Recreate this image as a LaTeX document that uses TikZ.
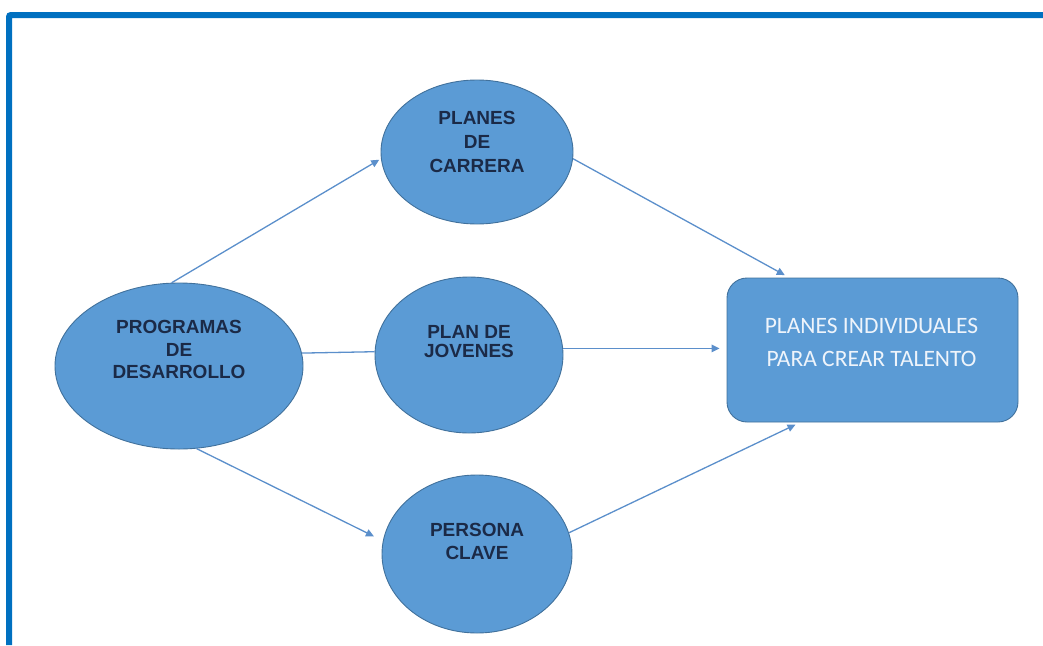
\documentclass[tikz,border=0pt]{standalone}
\usepackage{fontspec}
\setmainfont{Liberation Sans}
\newfontfamily\boxfont{Carlito}
\usetikzlibrary{shapes.geometric,arrows.meta}

\definecolor{frameblue}{HTML}{0070C0}
\definecolor{shapefill}{HTML}{5B9BD5}
\definecolor{shapeedge}{HTML}{41719C}
\definecolor{linkblue}{HTML}{5B8FCB}
\definecolor{inktext}{HTML}{1B2A47}
\definecolor{boxtext}{HTML}{EEF4FB}

\tikzset{
  bubble/.style={ellipse, fill=shapefill, draw=shapeedge, line width=0.9pt, inner sep=0pt},
  bubtext/.style={align=center, inner sep=0pt, text=inktext, font=\bfseries\fontsize{19}{#1}\selectfont},
  goalbox/.style={rectangle, rounded corners=20pt, fill=shapefill, draw=shapeedge, line width=0.9pt,
    minimum width=291pt, minimum height=144pt, inner sep=0pt},
  goaltext/.style={align=center, inner sep=0pt, text=boxtext, font=\boxfont\fontsize{23.5}{33}\selectfont},
  link/.style={draw=linkblue, line width=1.3pt},
  arrowlink/.style={link, -{Triangle[length=8pt,width=7.5pt]}}
}

\begin{document}
\begin{tikzpicture}[x=1pt, y=-1pt]
  \useasboundingbox (0,0) rectangle (1043,645);

  % page frame: open at right and bottom
  \draw[frameblue, line width=6pt, rounded corners=2pt] (9,645) -- (9,15) -- (1043,15);

  % shapes
  \node[bubble, minimum width=248pt, minimum height=166pt] (pd) at (179,366) {};
  \node[bubble, minimum width=192pt, minimum height=144pt] (pc) at (477,152) {};
  \node[bubble, minimum width=188pt, minimum height=156pt] (pj) at (469,355) {};
  \node[bubble, minimum width=190pt, minimum height=158pt] (pk) at (477,554) {};
  \node[goalbox] (goal) at (872.5,350) {};

  % labels
  \node[bubtext=22.5] (pdt) at (179,349.5) {PROGRAMAS\\DE\\DESARROLLO};
  \node[bubtext=24] (pct) at (477,141.5) {PLANES\\DE\\CARRERA};
  \node[bubtext=19.5] (pjt) at (469,341.5) {PLAN DE\\JOVENES};
  \node[bubtext=23] (pkt) at (477,541) {PERSONA\\CLAVE};
  \node[goaltext] (goalt) at (871.5,342.5) {PLANES INDIVIDUALES\\PARA CREAR TALENTO};

  % connectors
  \draw[arrowlink, shorten >=2pt] (pd.95) -- (pc.184);
  \draw[arrowlink, shorten >=5pt] (pc.-4) -- (goal.139);
  \draw[link] (pd.6.5) -- (pj.178);
  \draw[arrowlink, shorten >=7pt] (pj.4) -- (pj.4 -| goal.west);
  \draw[arrowlink, shorten >=10pt] (pd.282) -- (pk.172);
  \draw[arrowlink, shorten >=5pt] (pk.13) -- (goal.225);
\end{tikzpicture}
\end{document}
